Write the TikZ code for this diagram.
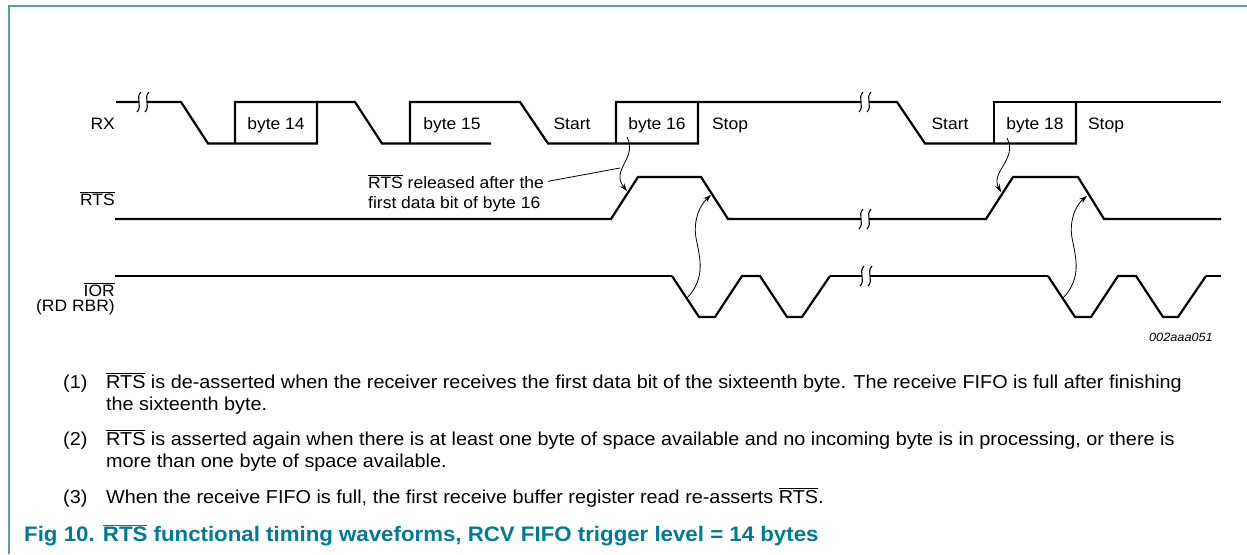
\documentclass[tikz,border=0pt]{standalone}
\usepackage{fontspec}
\setmainfont[FakeStretch=1.06]{Liberation Sans}
\usetikzlibrary{arrows.meta}
\definecolor{figteal}{RGB}{0,122,153}
\definecolor{framecol}{RGB}{90,155,185}
\tikzset{wave/.style={line width=2.2pt},
lbl/.style={font=\fontsize{16.5}{18}\selectfont, inner sep=0pt},
ann/.style={line width=0.8pt},
annarr/.style={line width=0.8pt, -{Stealth[length=8pt,width=5.5pt]}},
notetxt/.style={font=\fontsize{18.7}{22}\selectfont, inner sep=0pt, anchor=base west},
%break symbol on a waveform
brk/.pic={\fill[white] (-4,-3) rectangle (4,3);
  \foreach \dx in {-4,4} \draw[line width=1.1pt] (\dx+2,-10) .. controls (\dx-4,-4) and (\dx+4,4) .. (\dx-2,10);}}
\newcommand{\ovl}[1]{$\overline{\mbox{#1}}$}

\begin{document}
\begin{tikzpicture}[x=1pt,y=-1pt]
\useasboundingbox (0,0) rectangle (1247,554);
\draw[framecol, line width=1.5pt] (1247,6) -- (9,6) -- (9,554);

% RX
\draw[wave] (116,102) -- (181,102) -- (208,143.5) -- (317,143.5) -- (317,102);
\draw[wave] (235,143.5) -- (235,102) -- (355,102) -- (382,143.5) -- (491,143.5);
\draw[wave] (410,143.5) -- (410,102) -- (520,102) -- (548,143.5) -- (698,143.5) -- (698,102);
\draw[wave] (616,143.5) -- (616,102) -- (897,102) -- (925,143.5) -- (1076,143.5) -- (1076,102);
\draw[wave] (994,143.5) -- (994,102) -- (1221,102);
\pic at (143,102) {brk};
\pic at (865,102) {brk};

% RTS
\draw[wave] (115,219) -- (611,219) -- (638,177) -- (701,177) -- (728,219) -- (986,219)
  -- (1013,177) -- (1078,177) -- (1104,219) -- (1221,219);
\pic at (865,219) {brk};

% IOR
\draw[wave] (115,276) -- (672,276);
\draw[wave] (830,276) -- (1048,276);
\draw[wave] (1206,276) -- (1221,276);
\foreach \a in {672,1048}
  \draw[wave] (\a,276) -- ++(27,41) -- ++(16,0) -- ++(27,-41) -- ++(18,0) -- ++(27,41) -- ++(15,0) -- ++(28,-41);
\pic at (866,276) {brk};

%labels
\node[lbl, anchor=base east] (rx) at (115,129.5) {RX};
\node[lbl, anchor=base east] (rts) at (115,205) {\ovl{RTS}};
\node[lbl, anchor=base east] (ior) at (115,296.5) {\ovl{IOR}};
\node[lbl, anchor=base east] (iorrd) at (115,311) {(RD RBR)};
\foreach \x/\t [count=\i] in {276/byte 14,452/byte 15,572/Start,657/byte 16,730/Stop,950/Start,1035/byte 18,1106/Stop}
  \node[lbl, anchor=base] (rxt\i) at (\x,129.5) {\t};
\node[lbl, anchor=base west] (rel1) at (368,188) {\ovl{RTS} released after the};
\node[lbl, anchor=base west] (rel2) at (368,208.5) {first data bit of byte 16};
\node[lbl, anchor=base east, font=\fontsize{12}{14}\selectfont\itshape] (figid) at (1213,341) {002aaa051};

% arrows
\coordinate (b16) at (627,137);
\coordinate (rtsup1) at (627,191);
\coordinate (b16mid) at (620,168);
\coordinate (b18) at (1007,138);
\coordinate (rtsup2) at (1001,192);
\coordinate (rd1) at (687,298);
\coordinate (rtsdn1) at (711,195);
\coordinate (rd2) at (1063,298);
\coordinate (rtsdn2) at (1087,196);
\draw[annarr] (b16) .. controls (638,158) and (610,170) .. (rtsup1);
\draw[annarr] (b18) .. controls (1018,159) and (990,172) .. (rtsup2);
\draw[annarr] (rd1) .. controls (706,278) and (700,258) .. (696,238) .. controls (693,220) and (700,205) .. (rtsdn1);
\draw[annarr] (rd2) .. controls (1082,278) and (1076,258) .. (1072,238) .. controls (1069,220) and (1076,205) .. (rtsdn2);
\draw[ann] ([xshift=4pt]rel1.east) -- (b16mid);

% notes
\node[notetxt] (n1) at (63,388) {(1)};
\node[notetxt] (n1a) at (106,388) {\ovl{RTS} is de-asserted when the receiver receives the first data bit of the sixteenth byte. The receive FIFO is full after finishing};
\node[notetxt] (n1b) at (106,410) {the sixteenth byte.};
\node[notetxt] (n2) at (63,445) {(2)};
\node[notetxt] (n2a) at (106,445) {\ovl{RTS} is asserted again when there is at least one byte of space available and no incoming byte is in processing, or there is};
\node[notetxt] (n2b) at (106,467) {more than one byte of space available.};
\node[notetxt] (n3) at (63,503) {(3)};
\node[notetxt] (n3a) at (106,503) {When the receive FIFO is full, the first receive buffer register read re-asserts \ovl{RTS}.};
\node[notetxt, font=\fontsize{21}{24}\selectfont\bfseries, text=figteal] (cap) at (24,541) {Fig 10. \ovl{RTS} functional timing waveforms, RCV FIFO trigger level = 14 bytes};
\end{tikzpicture}
\end{document}
